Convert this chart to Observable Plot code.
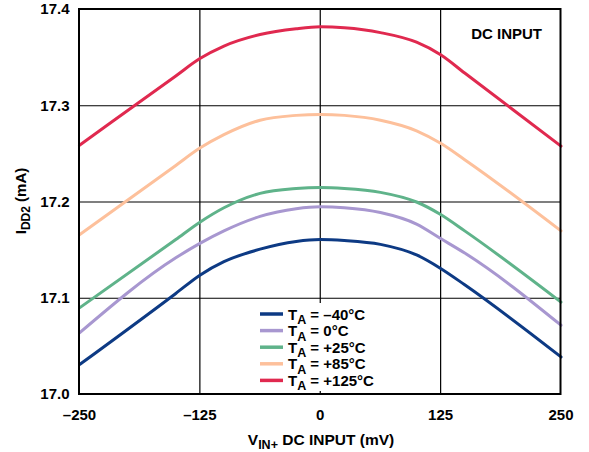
<!DOCTYPE html>
<html>
<head>
<meta charset="utf-8">
<script src="https://cdn.jsdelivr.net/npm/d3@7"></script>
<script src="https://cdn.jsdelivr.net/npm/@observablehq/plot@0.6"></script>
<style>
  html, body { margin: 0; padding: 0; background: #fff; }
  #chart svg { display: block; }
</style>
</head>
<body>
<div id="chart"></div>
<script>
// ---- data ----
const vin = [-250, -150, -125, -100, -62.5, -25, 0, 25, 62.5, 100, 125, 150, 250];
const seriesNames = ["−40°C", "0°C", "+25°C", "+85°C", "+125°C"];
const legendValues = ["–40°C", "0°C", "+25°C", "+85°C", "+125°C"];
const seriesColors = ["#0d3a84", "#a897d0", "#5fb38a", "#fdc09b", "#e0294f"];
const idd_m40 = [17.031, 17.105, 17.124, 17.138, 17.151, 17.159, 17.161, 17.160, 17.156, 17.145, 17.131, 17.114, 17.039];
const idd_0   = [17.064, 17.142, 17.157, 17.170, 17.185, 17.193, 17.195, 17.194, 17.189, 17.177, 17.162, 17.147, 17.072];
const idd_25  = [17.090, 17.161, 17.179, 17.194, 17.209, 17.214, 17.215, 17.214, 17.210, 17.200, 17.187, 17.170, 17.096];
const idd_85  = [17.166, 17.238, 17.256, 17.270, 17.285, 17.290, 17.291, 17.290, 17.285, 17.274, 17.261, 17.244, 17.170];
const idd_125 = [17.259, 17.331, 17.349, 17.362, 17.374, 17.380, 17.382, 17.381, 17.376, 17.366, 17.353, 17.334, 17.258];
const xTicks = [-250, -125, 0, 125, 250];
const xTickLabels = ["–250", "–125", "0", "125", "250"];
const yTicks = [17.0, 17.1, 17.2, 17.3, 17.4];
const yTickLabels = ["17.0", "17.1", "17.2", "17.3", "17.4"];

const allSeries = [idd_m40, idd_0, idd_25, idd_85, idd_125];
const rows = [];
allSeries.forEach((arr, si) => arr.forEach((v, i) => rows.push({ x: vin[i], y: v, s: seriesNames[si] })));

const FONT = "'Liberation Sans', Arial, Helvetica, sans-serif";
const W = 589, H = 452;
const mL = 79, mR = 28.5, mT = 9, mB = 58;

const plot = Plot.plot({
  width: W, height: H,
  marginLeft: mL, marginRight: mR, marginTop: mT, marginBottom: mB,
  style: { fontFamily: FONT, fontWeight: "bold", fontSize: "15px", color: "#000", background: "#fff" },
  x: { domain: [-250, 250] },
  y: { domain: [17.0, 17.4] },
  color: { domain: seriesNames, range: seriesColors },
  marks: [
    Plot.gridX(xTicks.slice(1, -1), { stroke: "#000", strokeOpacity: 1, strokeWidth: 1.2 }),
    Plot.gridY(yTicks.slice(1, -1), { stroke: "#000", strokeOpacity: 1, strokeWidth: 1.2 }),
    Plot.line(rows, { x: "x", y: "y", z: "s", stroke: "s", strokeWidth: 3, curve: "monotone-x" }),
    Plot.axisX(xTicks, { tickSize: 0, tickPadding: 15, tickFormat: (d, i) => xTickLabels[i], fontSize: 15, fontWeight: "bold", label: null }),
    Plot.axisY(yTicks, { tickSize: 0, tickPadding: 10, tickFormat: (d, i) => yTickLabels[i], fontSize: 15, fontWeight: "bold", label: null })
  ]
});

const svg = d3.select(plot);

// legend box (white background, hides gridline)
const lg = svg.append("g").attr("font-family", FONT).attr("font-weight", "bold").attr("text-anchor", "start");
lg.append("rect").attr("x", 252).attr("y", 303).attr("width", 140).attr("height", 88).attr("fill", "#fff");
legendValues.forEach((lab, i) => {
  const cy = 314 + i * 16.6;
  lg.append("line").attr("x1", 260).attr("x2", 283).attr("y1", cy).attr("y2", cy)
    .attr("stroke", seriesColors[i]).attr("stroke-width", 3.5);
  const t = lg.append("text").attr("x", 288).attr("y", cy + 5.5).attr("font-size", 15)
    .attr("fill", "#000").attr("text-anchor", "start");
  t.append("tspan").text("T");
  t.append("tspan").attr("dy", 4.5).attr("font-size", 12.5).text("A");
  t.append("tspan").attr("dy", -4.5).text(" = " + lab);
});

// frame on top
svg.append("rect").attr("x", mL).attr("y", mT).attr("width", W - mL - mR).attr("height", H - mT - mB)
  .attr("fill", "none").attr("stroke", "#000").attr("stroke-width", 2);

// annotation
svg.append("text").attr("x", 542).attr("y", 39).attr("text-anchor", "end")
  .attr("font-family", FONT).attr("font-weight", "bold").attr("font-size", 15).text("DC INPUT");

// x label
const xl = svg.append("text").attr("x", 321).attr("y", 445).attr("text-anchor", "middle")
  .attr("font-family", FONT).attr("font-weight", "bold").attr("font-size", 15.5);
xl.append("tspan").text("V");
xl.append("tspan").attr("dy", 4).attr("font-size", 12.5).text("IN+");
xl.append("tspan").attr("dy", -4).text(" DC INPUT (mV)");

// y label
const yl = svg.append("text").attr("transform", "translate(26,201) rotate(-90)").attr("text-anchor", "middle")
  .attr("font-family", FONT).attr("font-weight", "bold").attr("font-size", 15);
yl.append("tspan").text("I");
yl.append("tspan").attr("dy", 3.5).attr("font-size", 12).text("DD2");
yl.append("tspan").attr("dy", -3.5).text(" (mA)");

document.getElementById("chart").appendChild(plot);
</script>
</body>
</html>
